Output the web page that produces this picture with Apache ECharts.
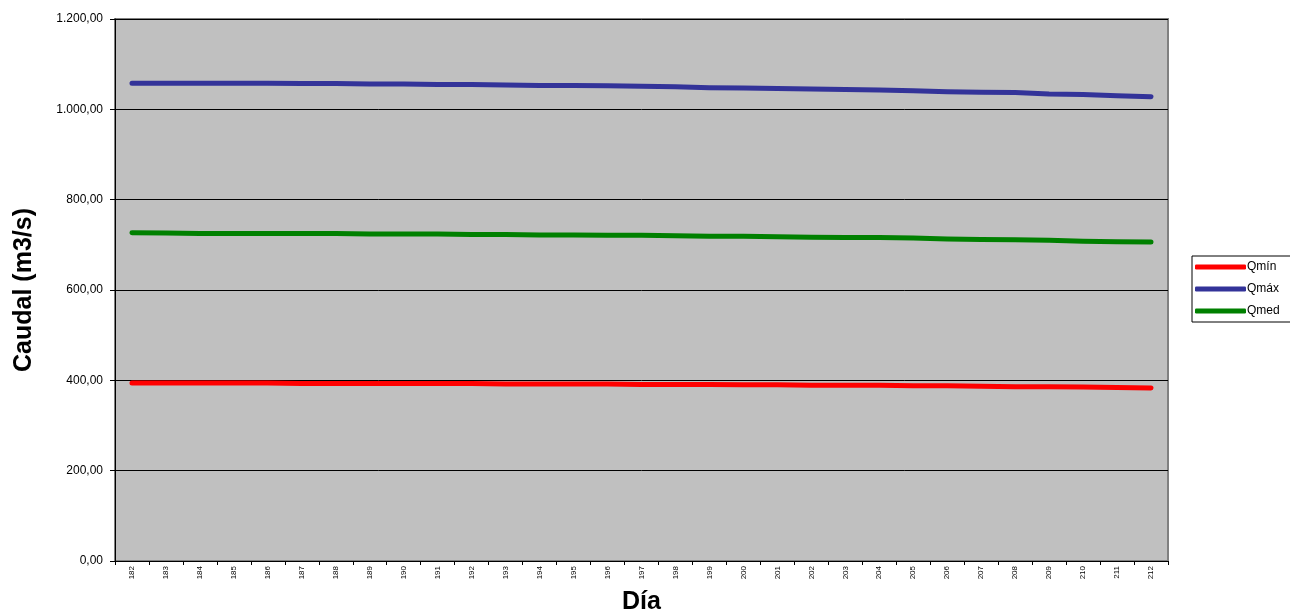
<!DOCTYPE html>
<html>
<head>
<meta charset="utf-8">
<script src="https://cdn.jsdelivr.net/npm/echarts@6/dist/echarts.min.js"></script>
<style>
html,body{margin:0;padding:0;background:#fff;}
#c{width:1290px;height:616px;}
</style>
</head>
<body>
<div id="c"></div>
<script>
const days = [182,183,184,185,186,187,188,189,190,191,192,193,194,195,196,197,198,199,200,201,202,203,204,205,206,207,208,209,210,211,212];
const qmin = [394,394,394,394,394,393,393,393,393,393,393,392,392,392,392,391,391,391,390,390,389,389,389,388,388,387,386,386,385,384,383];
const qmax = [1058,1058,1058,1058,1058,1057,1057,1056,1056,1055,1055,1054,1053,1053,1052,1051,1050,1048,1047,1046,1045,1044,1043,1041,1039,1038,1037,1034,1033,1030,1028];
const qmed = [727,726,725,725,725,725,725,724,724,724,723,723,722,722,721,721,720,719,719,718,717,716,716,715,713,712,711,710,708,707,706];
const seriesNames = ['Qmín','Qmáx','Qmed'];
const colors = ['#FF0000','#333399','#008000'];

function fmt(v){
  const s = v.toFixed(2).split('.');
  const intPart = s[0].replace(/\B(?=(\d{3})+(?!\d))/g,'.');
  return intPart + ',' + s[1];
}

const chart = echarts.init(document.getElementById('c'), null, {renderer:'canvas'});
const font = 'Liberation Sans, Arial, sans-serif';
chart.setOption({
  animation:false,
  textStyle:{fontFamily:font},
  grid:{left:115,right:122,top:19,bottom:55,containLabel:false,outerBoundsMode:'none',show:true,backgroundColor:'#C0C0C0',borderColor:'#808080',borderWidth:2},
  legend:{
    orient:'vertical', left:1192, top:256,
    backgroundColor:'#fff', borderColor:'#000', borderWidth:1,
    padding:[5,12,5,3], itemGap:10,
    itemWidth:51, itemHeight:5, icon:'roundRect',
    textStyle:{fontSize:12,color:'#000',fontFamily:font,padding:[0,0,0,-4]},
    data:seriesNames
  },
  xAxis:{
    type:'category', data:days, boundaryGap:true,
    name:'Día', nameLocation:'middle', nameGap:29,
    nameTextStyle:{fontSize:25,fontWeight:'bold',color:'#000',fontFamily:font},
    axisLine:{lineStyle:{color:'#000',width:1}},
    axisTick:{show:true,length:4,lineStyle:{color:'#000'}},
    axisLabel:{rotate:90,fontSize:8,color:'#000',margin:5,interval:0}
  },
  yAxis:{
    type:'value', min:0, max:1200, interval:200,
    name:'Caudal (m3/s)', nameLocation:'middle', nameGap:78,
    nameTextStyle:{fontSize:25,fontWeight:'bold',color:'#000',fontFamily:font},
    axisLine:{show:true,lineStyle:{color:'#000',width:1}},
    axisTick:{show:true,length:5,lineStyle:{color:'#000'}},
    axisLabel:{fontSize:12,color:'#000',margin:12,formatter:fmt},
    splitLine:{show:true,lineStyle:{color:'#000',width:1}}
  },
  series:[
    {name:seriesNames[0],type:'line',data:qmin,symbol:'none',lineStyle:{width:5,color:colors[0],cap:'round',join:'round'},itemStyle:{color:colors[0]}},
    {name:seriesNames[1],type:'line',data:qmax,symbol:'none',lineStyle:{width:5,color:colors[1],cap:'round',join:'round'},itemStyle:{color:colors[1]}},
    {name:seriesNames[2],type:'line',data:qmed,symbol:'none',lineStyle:{width:5,color:colors[2],cap:'round',join:'round'},itemStyle:{color:colors[2]}}
  ]
});
</script>
</body>
</html>
